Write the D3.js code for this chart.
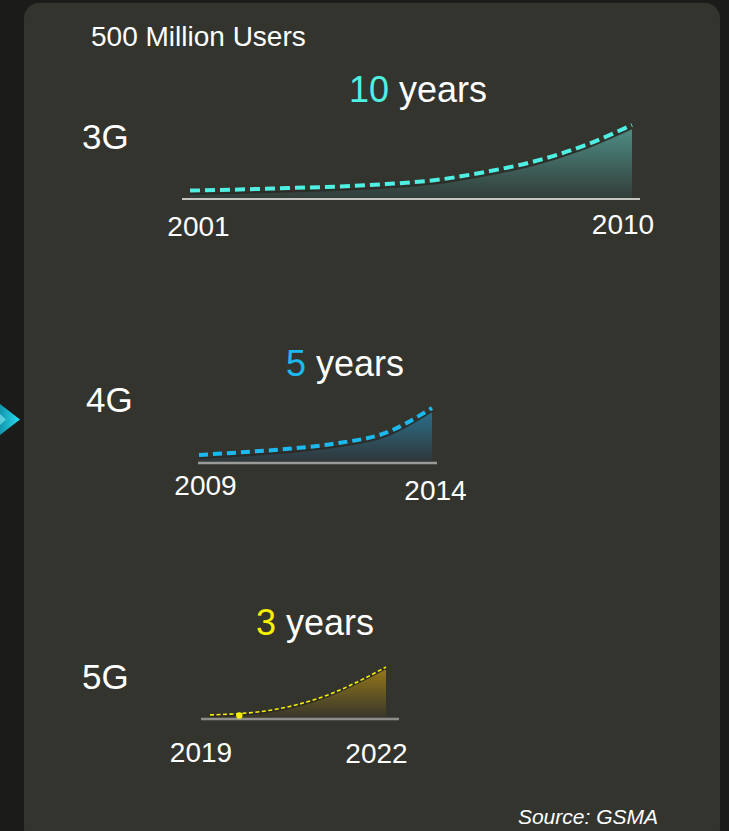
<!DOCTYPE html>
<html>
<head>
<meta charset="utf-8">
<script src="https://cdn.jsdelivr.net/npm/d3@7"></script>
<style>
  html, body { margin: 0; padding: 0; background: #1b1c19; }
  svg { display: block; }
  text { font-family: "Liberation Sans", Arial, sans-serif; fill: #ffffff; }
</style>
</head>
<body>
<script>
// ---------------- DATA ----------------
const title = "500 Million Users";
const source = "Source: GSMA";

const years3G = [2001, 2002, 2003, 2004, 2005, 2006, 2007, 2008, 2009, 2010];
const users3G = [57, 64, 74, 84, 101, 128, 182, 253, 358, 500];
const ticks3G = ["2001", "2010"];

const years4G = [2009, 2010, 2011, 2012, 2013, 2014];
const users4G = [73, 100, 132, 182, 273, 500];
const ticks4G = ["2009", "2014"];

const years5G = [2019, 2020, 2021, 2022];
const users5G = [38, 80, 225, 490];
const ticks5G = ["2019", "2022"];
const marker5G = { year: 2019.5, users: 47 };

const generations = ["3G", "4G", "5G"];
const durations = [10, 5, 3];

// ---------------- LAYOUT ----------------
const W = 729, H = 831;
const svg = d3.select("body").append("svg").attr("width", W).attr("height", H);
const defs = svg.append("defs");

// outer background + panel
svg.append("rect").attr("width", W).attr("height", H).attr("fill", "#1b1c19");
svg.append("rect").attr("x", 24).attr("y", 3).attr("width", 696).attr("height", 840)
  .attr("rx", 15).attr("fill", "#33342e");

// left arrow
const arrowGrad = defs.append("linearGradient").attr("id", "arrowGrad")
  .attr("x1", 0).attr("x2", 1).attr("y1", 0).attr("y2", 0);
arrowGrad.append("stop").attr("offset", "0%").attr("stop-color", "#1296ad");
arrowGrad.append("stop").attr("offset", "100%").attr("stop-color", "#28dcf2");
svg.append("path").attr("d", "M0,404 L20,419.5 L0,435 Z").attr("fill", "url(#arrowGrad)");
svg.append("path").attr("d", "M0,414 L6,419.5 L0,425 Z").attr("fill", "#8aeef8").attr("opacity", 0.6);

svg.append("text").attr("x", 91).attr("y", 46).attr("font-size", 28).text(title);

svg.append("text").attr("x", 658).attr("y", 824).attr("text-anchor", "end")
  .attr("font-size", 21).attr("font-style", "italic").text(source);

const charts = [
  { gen: generations[0], dur: durations[0], years: years3G, users: users3G, ticks: ticks3G,
    xr: [190, 632], yr: [199, 125], axisPad: [8, 8], axisColor: "#c4c4c0", axisW: 2,
    lineColor: "#4ef0e4", lineW: 4, dash: "10,5", gradTop: "#4f9189", gradBot: "#323b37",
    genPos: [82, 149], titlePos: [349, 102], tickBase: [236, 234], tickOff: [8.5, -9], areaOff: 3.5 },
  { gen: generations[1], dur: durations[1], years: years4G, users: users4G, ticks: ticks4G,
    xr: [199, 432], yr: [463, 408], axisPad: [1, 5], axisColor: "#9a9a98", axisW: 2.5,
    lineColor: "#1cb9f0", lineW: 4, dash: "9,5", gradTop: "#2a7390", gradBot: "#303537",
    genPos: [86, 412], titlePos: [286, 376], tickBase: [495, 500], tickOff: [6.5, 3.5], areaOff: 3.5 },
  { gen: generations[2], dur: durations[2], years: years5G, users: users5G, ticks: ticks5G,
    xr: [210, 386], yr: [719, 666], axisPad: [9, 13], axisColor: "#8e8e8c", axisW: 2.5,
    lineColor: "#f7f000", lineW: 1.6, dash: "4,2.5", gradTop: "#9a7c18", gradBot: "#35342b",
    genPos: [82, 689], titlePos: [256, 635], tickBase: [762, 763], tickOff: [-9, -9.5], areaOff: 1.5,
    marker: marker5G }
];

charts.forEach((c, i) => {
  const x = d3.scaleLinear().domain(d3.extent(c.years)).range(c.xr);
  const y = d3.scaleLinear().domain([0, 500]).range(c.yr);
  const pts = c.years.map((yr, k) => ({ year: yr, users: c.users[k] }));

  const gid = "areaGrad" + i;
  const g = defs.append("linearGradient").attr("id", gid)
    .attr("gradientUnits", "userSpaceOnUse")
    .attr("x1", 0).attr("x2", 0).attr("y1", c.yr[1]).attr("y2", c.yr[0]);
  g.append("stop").attr("offset", "0%").attr("stop-color", c.gradTop);
  g.append("stop").attr("offset", "100%").attr("stop-color", c.gradBot);

  // area (slightly below the dashed line)
  const area = d3.area().curve(d3.curveMonotoneX)
    .x(d => x(d.year)).y0(y(0)).y1(d => y(d.users) + c.areaOff);
  svg.append("path").datum(pts).attr("d", area).attr("fill", `url(#${gid})`);

  // dark shadow edge on top of area
  const edge = d3.line().curve(d3.curveMonotoneX)
    .x(d => x(d.year)).y(d => y(d.users) + c.areaOff);
  svg.append("path").datum(pts).attr("d", edge).attr("fill", "none")
    .attr("stroke", "#262622").attr("stroke-width", 1.8).attr("opacity", 0.7);

  // baseline axis
  svg.append("line")
    .attr("x1", c.xr[0] - c.axisPad[0]).attr("x2", c.xr[1] + c.axisPad[1])
    .attr("y1", y(0)).attr("y2", y(0))
    .attr("stroke", c.axisColor).attr("stroke-width", c.axisW);

  // dashed growth line
  const line = d3.line().curve(d3.curveMonotoneX)
    .x(d => x(d.year)).y(d => y(d.users));
  svg.append("path").datum(pts).attr("d", line).attr("fill", "none")
    .attr("stroke", c.lineColor).attr("stroke-width", c.lineW)
    .attr("stroke-dasharray", c.dash);

  if (c.marker) {
    svg.append("circle").attr("cx", x(c.marker.year)).attr("cy", y(c.marker.users) + 1.5)
      .attr("r", 3.2).attr("fill", c.lineColor);
  }

  // tick labels
  const ends = d3.extent(c.years);
  c.ticks.forEach((t, k) => {
    svg.append("text").attr("x", x(ends[k]) + c.tickOff[k]).attr("y", c.tickBase[k])
      .attr("text-anchor", "middle").attr("font-size", 28).text(t);
  });

  // generation label
  svg.append("text").attr("x", c.genPos[0]).attr("y", c.genPos[1])
    .attr("font-size", 35).text(c.gen);

  // "N years" title
  const tt = svg.append("text").attr("x", c.titlePos[0]).attr("y", c.titlePos[1])
    .attr("font-size", 36);
  tt.append("tspan").style("fill", c.lineColor).text(c.dur);
  tt.append("tspan").text(" years");
});
</script>
</body>
</html>
